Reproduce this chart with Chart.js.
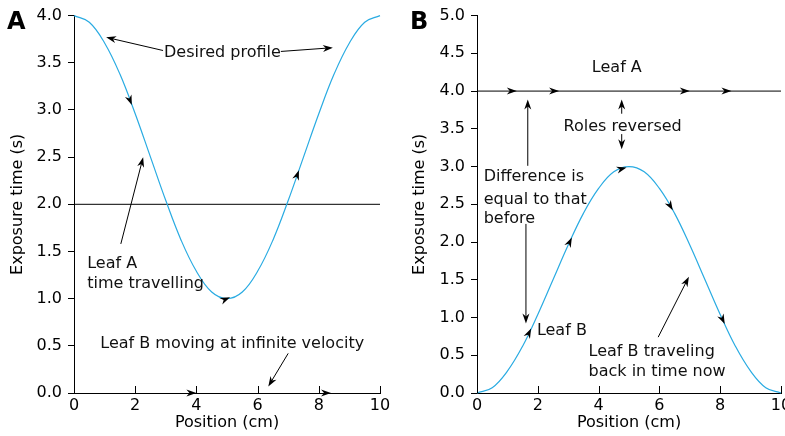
<!DOCTYPE html>
<html>
<head>
<meta charset="utf-8">
<script src="https://cdn.jsdelivr.net/npm/chart.js@4.4.1/dist/chart.umd.min.js"></script>
<style>
  html, body { margin: 0; padding: 0; background: #fff; overflow: hidden; }
  #wrap { position: relative; width: 785px; height: 436px; overflow: hidden; }
  canvas { position: absolute; top: 0; }
</style>
</head>
<body>
<div id="wrap">
  <canvas id="chartA" width="395" height="436" style="left:0"></canvas>
  <canvas id="chartB" width="400" height="436" style="left:395px"></canvas>
</div>
<script>
// Data
const positions = [0, 0.5, 1, 1.5, 2, 2.5, 3, 3.5, 4, 4.5, 5, 5.5, 6, 6.5, 7, 7.5, 8, 8.5, 9, 9.5, 10];
const desiredProfile = [4.00, 3.93, 3.71, 3.38, 2.96, 2.50, 2.04, 1.62, 1.29, 1.07, 1.00, 1.07, 1.29, 1.62, 2.04, 2.50, 2.96, 3.38, 3.71, 3.93, 4.00];
const leafBProfile = [0.00, 0.07, 0.29, 0.62, 1.04, 1.50, 1.96, 2.38, 2.71, 2.93, 3.00, 2.93, 2.71, 2.38, 1.96, 1.50, 1.04, 0.62, 0.29, 0.07, 0.00];
const leafALevelA = 2.0;   // panel A, flat leaf line
const leafALevelB = 4.0;   // panel B, flat leaf line
const leafBLevelA = 0.0;   // panel A, leaf B runs along the axis
const xTicks = [0, 2, 4, 6, 8, 10];

// Annotations (data units)
const textsA = [
  { text: 'Desired profile', x: 4.85, y: 3.61, align: 'center' },
  { text: 'Leaf A', x: 0.43, y: 1.37, align: 'left' },
  { text: 'time travelling', x: 0.43, y: 1.16, align: 'left' },
  { text: 'Leaf B moving at infinite velocity', x: 5.17, y: 0.52, align: 'center' }
];
const arrowsA = [
  [2.91, 3.63, 1.05, 3.77],
  [6.76, 3.62, 8.46, 3.66],
  [1.53, 1.58, 2.26, 2.50],
  [7.00, 0.42, 6.35, 0.07]
];
const curveHeadsA = [1.89, 5.10, 7.35];
const lineHeadsA = [4.0, 8.4];

const textsB = [
  { text: 'Leaf A', x: 4.6, y: 4.31, align: 'center' },
  { text: 'Roles reversed', x: 4.79, y: 3.53, align: 'center' },
  { text: 'Difference is', x: 0.22, y: 2.87, align: 'left' },
  { text: 'equal to that', x: 0.22, y: 2.56, align: 'left' },
  { text: 'before', x: 0.22, y: 2.31, align: 'left' },
  { text: 'Leaf B', x: 1.97, y: 0.82, align: 'left' },
  { text: 'Leaf B traveling', x: 3.67, y: 0.54, align: 'left' },
  { text: 'back in time now', x: 3.67, y: 0.28, align: 'left' }
];
const arrowsB = [
  [4.76, 3.70, 4.76, 3.89],
  [4.76, 3.43, 4.76, 3.23],
  [1.67, 3.01, 1.67, 3.89],
  [1.61, 2.24, 1.61, 0.92],
  [5.96, 0.74, 6.97, 1.54]
];
const curveHeadsB = [1.78, 3.12, 4.92, 6.44, 8.15];
const lineHeadsB = [1.31, 2.70, 7.0, 8.37];

const FONT = 'DejaVu Sans';
const CURVE_COLOR = '#29abe2';
Chart.defaults.font.family = FONT;
Chart.defaults.font.size = 16;
Chart.defaults.color = '#000';

function toPoints(xs, ys) {
  return xs.map(function(x, i) { return { x: x, y: ys[i] }; });
}

// linear interpolation on the curve, used to place arrowheads on it
function interp(xs, ys, x) {
  for (let i = 0; i < xs.length - 1; i++) {
    if (x >= xs[i] && x <= xs[i + 1]) {
      const t = (x - xs[i]) / (xs[i + 1] - xs[i]);
      return ys[i] + t * (ys[i + 1] - ys[i]);
    }
  }
  return ys[ys.length - 1];
}

// stealth-style filled arrowhead
function drawHead(ctx, tx, ty, angle, len, wid) {
  len = len || 10; wid = wid || 7;
  ctx.save();
  ctx.translate(tx, ty);
  ctx.rotate(angle);
  ctx.beginPath();
  ctx.moveTo(0, 0);
  ctx.lineTo(-len, -wid / 2);
  ctx.lineTo(-len * 0.7, 0);
  ctx.lineTo(-len, wid / 2);
  ctx.closePath();
  ctx.fillStyle = '#000';
  ctx.fill();
  ctx.restore();
}

function makePlugin(panel) {
  return {
    id: 'extras' + panel.label,
    afterDatasetsDraw: function(chart) {
      const ctx = chart.ctx;
      const xs = chart.scales.x, ys = chart.scales.y;
      const px = function(v) { return xs.getPixelForValue(v); };
      const py = function(v) { return ys.getPixelForValue(v); };

      ctx.save();
      // inward ticks on the x axis
      ctx.strokeStyle = '#000';
      ctx.lineWidth = 1;
      xTicks.forEach(function(t) {
        const X = Math.round(px(t)) + 0.5;
        ctx.beginPath();
        ctx.moveTo(X, ys.bottom);
        ctx.lineTo(X, ys.bottom - 7);
        ctx.stroke();
      });

      // arrowheads on the curve
      panel.curveHeads.forEach(function(x) {
        const yv = interp(positions, panel.curve, x);
        const a = Math.atan2(py(interp(positions, panel.curve, x + 0.1)) - py(interp(positions, panel.curve, x - 0.1)),
                             px(x + 0.1) - px(x - 0.1));
        drawHead(ctx, px(x), py(yv), a);
      });

      // arrowheads on the flat line
      panel.lineHeads.forEach(function(x) {
        drawHead(ctx, px(x), py(panel.headLevel), 0);
      });

      // pointer arrows
      panel.arrows.forEach(function(a) {
        const x1 = px(a[0]), y1 = py(a[1]), x2 = px(a[2]), y2 = py(a[3]);
        const ang = Math.atan2(y2 - y1, x2 - x1);
        ctx.beginPath();
        ctx.moveTo(x1, y1);
        ctx.lineTo(x2 - Math.cos(ang) * 6, y2 - Math.sin(ang) * 6);
        ctx.strokeStyle = '#000';
        ctx.lineWidth = 1;
        ctx.stroke();
        drawHead(ctx, x2, y2, ang, 10, 7);
      });

      // labels
      ctx.fillStyle = '#111';
      ctx.font = '16px "' + FONT + '"';
      ctx.textBaseline = 'middle';
      panel.texts.forEach(function(t) {
        ctx.textAlign = t.align;
        ctx.fillText(t.text, px(t.x), py(t.y));
      });

      // panel letter
      ctx.font = 'bold 24px "' + FONT + '"';
      ctx.textAlign = 'left';
      ctx.textBaseline = 'alphabetic';
      ctx.fillStyle = '#000';
      ctx.fillText(panel.label, panel.labelX, 29);
      ctx.restore();
    }
  };
}

function buildChart(id, panel) {
  const ctx = document.getElementById(id).getContext('2d');
  return new Chart(ctx, {
    type: 'line',
    data: {
      datasets: [{
        data: toPoints(positions, panel.curve),
        borderColor: CURVE_COLOR,
        borderWidth: 1.2,
        pointRadius: 0,
        tension: 0.4,
        clip: false
      }, {
        data: toPoints([0, 10], [panel.lineLevel, panel.lineLevel]),
        borderColor: '#000',
        borderWidth: 1,
        pointRadius: 0,
        clip: false
      }]
    },
    options: {
      responsive: false,
      animation: false,
      devicePixelRatio: 1,
      layout: { padding: { top: 15, right: panel.padRight, bottom: 0, left: 0 } },
      plugins: { legend: { display: false }, tooltip: { enabled: false } },
      scales: {
        x: {
          type: 'linear',
          min: 0, max: 10,
          afterBuildTicks: function(scale) { scale.ticks = xTicks.map(function(v) { return { value: v }; }); },
          afterFit: function(scale) { scale.height = 43; },
          ticks: { padding: 3, maxRotation: 0, color: '#000', font: { size: 16 } },
          grid: { drawOnChartArea: false, drawTicks: false },
          border: { display: true, color: '#000', width: 1 },
          title: { display: true, text: 'Position (cm)', color: '#000', font: { size: 16 }, padding: { top: 0, bottom: 4 } }
        },
        y: {
          min: 0, max: panel.yMax,
          afterFit: function(scale) { scale.width = panel.yWidth; },
          ticks: { stepSize: 0.5, padding: 6, color: '#000', font: { size: 16 },
                   callback: function(v) { return v.toFixed(1); } },
          grid: { drawOnChartArea: false, drawTicks: true, tickLength: 6, color: '#000' },
          border: { display: true, color: '#000', width: 1 },
          title: { display: true, text: 'Exposure time (s)', color: '#000', font: { size: 16 }, padding: { top: panel.titlePad, bottom: 0 } }
        }
      }
    },
    plugins: [makePlugin(panel)]
  });
}

buildChart('chartA', {
  label: 'A', labelX: 7, curve: desiredProfile, lineLevel: leafALevelA, headLevel: leafBLevelA, yMax: 4,
  yWidth: 74, padRight: 15, titlePad: 8,
  texts: textsA, arrows: arrowsA, curveHeads: curveHeadsA, lineHeads: lineHeadsA
});
buildChart('chartB', {
  label: 'B', labelX: 15, curve: leafBProfile, lineLevel: leafALevelB, headLevel: leafALevelB, yMax: 5,
  yWidth: 82, padRight: 14, titlePad: 15,
  texts: textsB, arrows: arrowsB, curveHeads: curveHeadsB, lineHeads: lineHeadsB
});
</script>
</body>
</html>
